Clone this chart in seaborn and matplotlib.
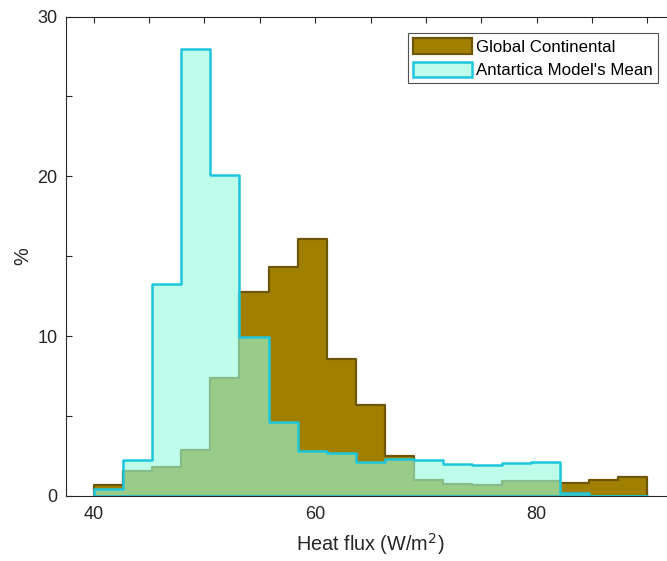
import numpy as np
import matplotlib
matplotlib.use("Agg")
import matplotlib.pyplot as plt
import seaborn as sns

# ---- data (percent per bin) ----
bin_edges = list(np.linspace(40, 90, 20))
global_continental = [0.70, 1.55, 1.83, 2.88, 7.40, 12.75, 14.35, 16.06, 8.55, 5.70,
                      2.50, 1.00, 0.75, 0.67, 0.96, 0.94, 0.83, 1.00, 1.20]
antartica_mean = [0.44, 2.25, 13.27, 27.97, 20.09, 9.93, 4.65, 2.84, 2.67, 2.11,
                  2.30, 2.23, 2.00, 1.94, 2.06, 2.10, 0.17, 0.02, 0.02]
series_labels = ["Global Continental", "Antartica Model's Mean"]
x_ticks = [40, 45, 50, 55, 60, 65, 70, 75, 80, 85, 90]
x_ticklabels = ["40", "", "", "", "60", "", "", "", "80", "", ""]
y_ticks = [0, 5, 10, 15, 20, 25, 30]
y_ticklabels = ["0", "", "10", "", "20", "", "30"]

centers = [(bin_edges[i] + bin_edges[i + 1]) / 2 for i in range(len(bin_edges) - 1)]

sns.set_theme(style="white")
plt.rcParams['font.family'] = ['Liberation Sans', 'DejaVu Sans']
dark = '#262626'

W, H = 667, 561
fig = plt.figure(figsize=(W / 100, H / 100), dpi=100)
left_px, right_px, top_px, bot_px = 66, 675, 16.5, 496
ax = fig.add_axes([left_px / W, 1 - bot_px / H, (right_px - left_px) / W, (bot_px - top_px) / H])

sns.histplot(x=centers, weights=global_continental, bins=bin_edges, element="step",
             fill=True, facecolor=(161/255, 128/255, 0, 1.0), edgecolor='#6E5500',
             linewidth=1.6, ax=ax, label=series_labels[0])
sns.histplot(x=centers, weights=antartica_mean, bins=bin_edges, element="step",
             fill=True, facecolor=(150/255, 252/255, 222/255, 0.62), edgecolor='#1CC6DC',
             linewidth=1.8, ax=ax, label=series_labels[1])

ax.set_xlim(37.5, 92.5)
ax.set_ylim(0, 30)
ax.set_xticks(x_ticks)
ax.set_xticklabels(x_ticklabels)
ax.set_yticks(y_ticks)
ax.set_yticklabels(y_ticklabels)
ax.tick_params(axis='both', direction='in', length=4.5, width=0.8, colors=dark,
               labelsize=13, labelcolor=dark)
ax.tick_params(axis='x', top=True, bottom=True, pad=7)
ax.tick_params(axis='y', left=True, right=False, pad=6)
for s in ax.spines.values():
    s.set_color(dark)
    s.set_linewidth(0.8)
ax.spines['right'].set_visible(False)

ax.set_xlabel("Heat flux (W/m$^2$)", fontsize=14.3, color=dark, labelpad=6)
ax.set_ylabel("%", fontsize=14.3, color=dark, labelpad=4)

leg = ax.legend(loc='upper right', bbox_to_anchor=(658 / W, 1 - 33.3 / H),
                bbox_transform=fig.transFigure, fontsize=12.2, frameon=True,
                fancybox=False, handlelength=3.5, handleheight=1.0,
                handletextpad=0.25, borderpad=0.3, labelspacing=0.4,
                borderaxespad=0)
leg.get_frame().set_edgecolor(dark)
leg.get_frame().set_linewidth(0.8)
for t in leg.get_texts():
    t.set_color('black')

fig.savefig("out.png", dpi=100)
